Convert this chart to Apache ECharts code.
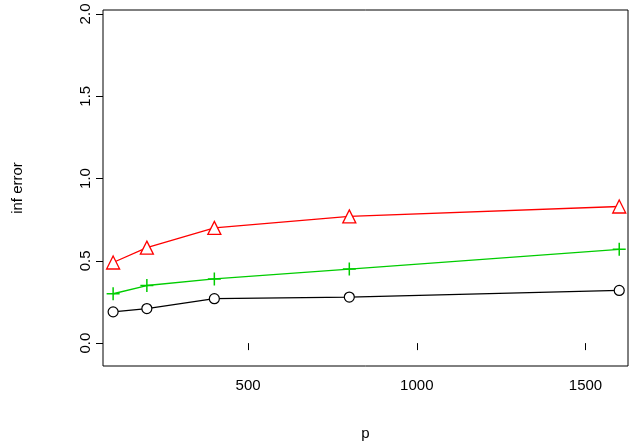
<!DOCTYPE html>
<html><head><meta charset="utf-8">
<script src="https://cdn.jsdelivr.net/npm/echarts@6/dist/echarts.min.js"></script>
<style>html,body{margin:0;background:#fff}#c{width:640px;height:446px}</style>
</head><body><div id="c"></div>
<script>
var pValues = [100, 200, 400, 800, 1600];
var redErr = [0.49, 0.58, 0.70, 0.77, 0.83];
var greenErr = [0.30, 0.35, 0.39, 0.45, 0.57];
var blackErr = [0.19, 0.21, 0.27, 0.28, 0.32];
var xTicks = [500, 1000, 1500];
var yTicks = [0, 0.5, 1, 1.5, 2];

function pairs(ys) { return pValues.map(function (p, i) { return [p, ys[i]]; }); }

var chart = echarts.init(document.getElementById('c'));
var lbl = { fontFamily: 'Liberation Sans', fontSize: 15, color: '#000' };
chart.setOption({
  animation: false,
  grid: { left: 103, right: 12, top: 10, bottom: 77, show: true, borderColor: '#000', borderWidth: 1 },
  xAxis: {
    type: 'value', min: 70, max: 1626,
    name: 'p', nameLocation: 'middle', nameGap: 60, nameTextStyle: lbl,
    axisLine: { show: false }, splitLine: { show: false },
    axisTick: { show: true, length: 7, customValues: xTicks, lineStyle: { color: '#000' } },
    axisLabel: Object.assign({ customValues: xTicks, margin: 12,
      formatter: function (v) { return String(v); } }, lbl)
  },
  yAxis: {
    type: 'value', min: -0.139, max: 2.024,
    name: 'inf error', nameLocation: 'middle', nameGap: 78, nameTextStyle: lbl,
    axisLine: { show: false }, splitLine: { show: false },
    axisTick: { show: true, length: 7, customValues: yTicks, lineStyle: { color: '#000' } },
    axisLabel: Object.assign({ customValues: yTicks, rotate: 90, margin: 10,
      formatter: function (v) { return v.toFixed(1); } }, lbl)
  },
  series: [
    { type: 'line', data: pairs(redErr), symbol: 'triangle', symbolSize: 13,
      lineStyle: { color: '#f00', width: 1.3 },
      itemStyle: { color: '#fff', borderColor: '#f00', borderWidth: 1.3 } },
    { type: 'line', data: pairs(greenErr), symbol: 'path://M0,5L10,5M5,0L5,10', symbolSize: 13,
      lineStyle: { color: '#00cd00', width: 1.3 },
      itemStyle: { color: 'none', borderColor: '#00cd00', borderWidth: 1.5 } },
    { type: 'line', data: pairs(blackErr), symbol: 'circle', symbolSize: 10,
      lineStyle: { color: '#000', width: 1.3 },
      itemStyle: { color: '#fff', borderColor: '#000', borderWidth: 1.2 } }
  ]
});
</script></body></html>
